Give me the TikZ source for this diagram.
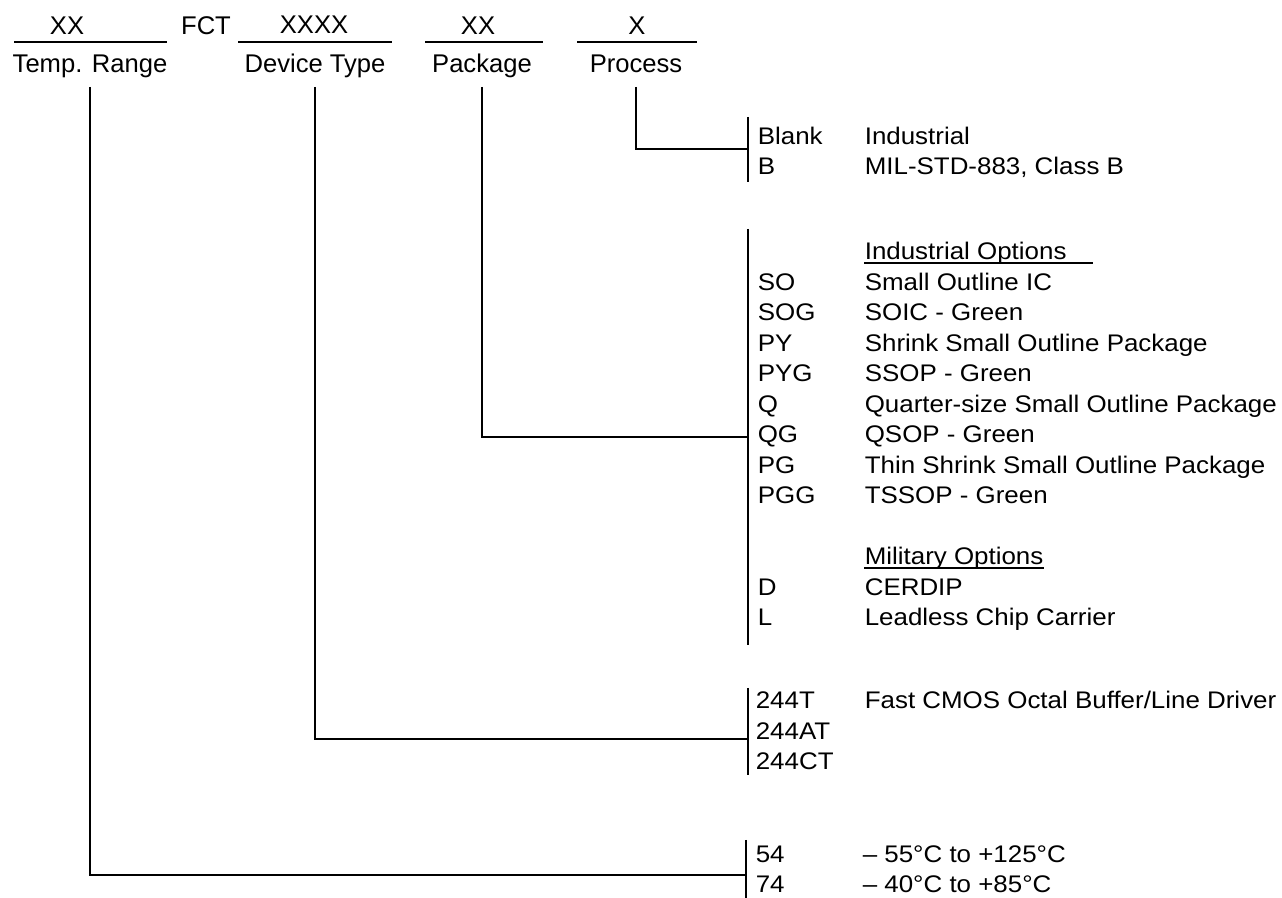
\documentclass[tikz,border=0pt]{standalone}
\usepackage{fontspec}
\setmainfont{Liberation Sans}[FakeStretch=1.08]
\newfontfamily\headfont{Liberation Sans}
\usetikzlibrary{positioning}

\begin{document}
\begin{tikzpicture}[x=0.5pt,y=-0.5pt,line width=0.8pt,every node/.style={inner sep=0pt,font=\fontsize{12}{15}\selectfont},head/.style={anchor=base,font=\headfont\fontsize{12.8}{15}\selectfont},code/.style={anchor=base west},desc/.style={anchor=base west},uline/.style={line width=1pt},brack/.style={line width=1pt}]
\useasboundingbox (0,0) rectangle (1282,898);
% ordering code heading
\node[head] (xxtemp) at (67,35) {XX};
\node[head] (fct) at (206,35) {FCT};
\node[head] (xxdev) at (314,34) {XXXX};
\node[head] (xxpkg) at (478,35) {XX};
\node[head] (xproc) at (637,35) {X};
\draw[uline] (14,42)--(167,42);\draw[uline] (238,42)--(392,42);\draw[uline] (425,42)--(543,42);\draw[uline] (577,42)--(697,42);
\node[head] (lbtemp) at (90,73) {Temp. Range};
\node[head] (lbdev) at (315,73) {Device Type};
\node[head] (lbpkg) at (482,73) {Package};
\node[head] (lbproc) at (636,73) {Process};
% brackets
\coordinate (proctop) at (748,117);\coordinate (procbot) at (748,182);\coordinate (procmid) at (748,149);
\coordinate (pkgtop) at (748,229);\coordinate (pkgbot) at (748,645);\coordinate (pkgmid) at (748,437);
\coordinate (devtop) at (748,688);\coordinate (devbot) at (748,775);\coordinate (devmid) at (748,739);
\coordinate (temptop) at (746,840);\coordinate (tempbot) at (746,898);\coordinate (tempmid) at (746,875);
\draw[brack] (proctop)--(procbot);\draw[brack] (pkgtop)--(pkgbot);\draw[brack] (devtop)--(devbot);\draw[brack] (temptop)--(tempbot);
\draw ([yshift=-7pt]lbproc.base) |- (procmid);
\draw ([yshift=-7pt]lbpkg.base) |- (pkgmid);
\draw ([yshift=-7pt]lbdev.base) |- (devmid);
\draw ([yshift=-7pt]lbtemp.base) |- (tempmid);
% process
\node[code] (blank) at (757,145) {Blank};\node[desc] (indus) at (864,145) {Industrial};
\node[code] (b) at (757,174.5) {B};\node[desc] (milstd) at (864,174.5) {MIL-STD-883, Class B};
% package
\node[desc] (indopt) at (864,260) {Industrial Options};
\draw ([yshift=-1.5pt]indopt.base west)--([yshift=-1.5pt,xshift=13pt]indopt.base east);
\node[code] (so) at (757,290.5) {SO};\node[desc] (soic) at (864,290.5) {Small Outline IC};
\node[code] (sog) at (757,321) {SOG};\node[desc] (soicg) at (864,321) {SOIC - Green};
\node[code] (py) at (757,351.5) {PY};\node[desc] (ssop) at (864,351.5) {Shrink Small Outline Package};
\node[code] (pyg) at (757,382) {PYG};\node[desc] (ssopg) at (864,382) {SSOP - Green};
\node[code] (q) at (757,412.5) {Q};\node[desc] (qsop) at (864,412.5) {Quarter-size Small Outline Package};
\node[code] (qg) at (757,443) {QG};\node[desc] (qsopg) at (864,443) {QSOP - Green};
\node[code] (pg) at (757,473.5) {PG};\node[desc] (tssop) at (864,473.5) {Thin Shrink Small Outline Package};
\node[code] (pgg) at (757,504) {PGG};\node[desc] (tssopg) at (864,504) {TSSOP - Green};
\node[desc] (milopt) at (864,565) {Military Options};
\draw ([yshift=-1.5pt]milopt.base west)--([yshift=-1.5pt]milopt.base east);
\node[code] (d) at (757,595.5) {D};\node[desc] (cerdip) at (864,595.5) {CERDIP};
\node[code] (l) at (757,626) {L};\node[desc] (lcc) at (864,626) {Leadless Chip Carrier};
% device type
\node[code] (t244) at (755,709) {244T};\node[desc] (fastcmos) at (864,709) {Fast CMOS Octal Buffer/Line Driver};
\node[code] (at244) at (755,740) {244AT};
\node[code] (ct244) at (755,770) {244CT};
% temperature range
\node[code] (r54) at (755,863) {54};\node[desc] (mil) at (862,863) {– 55°C to +125°C};
\node[code] (r74) at (755,893) {74};\node[desc] (com) at (862,893) {– 40°C to +85°C};
\end{tikzpicture}
\end{document}
